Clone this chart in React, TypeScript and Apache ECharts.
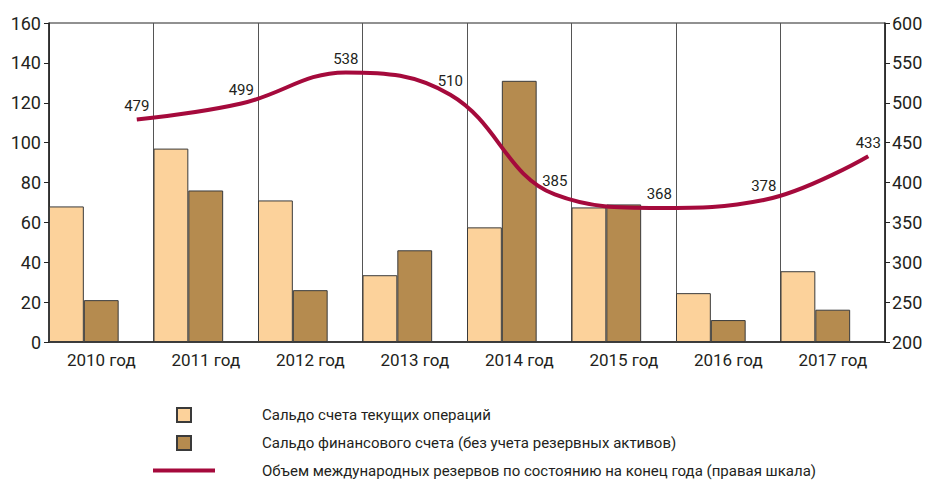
import React, { useEffect, useRef } from "react";
import * as echarts from "echarts";

const categories = ["2010 год", "2011 год", "2012 год", "2013 год", "2014 год", "2015 год", "2016 год", "2017 год"];
const currentAccount = [68, 97, 71, 33.5, 57.5, 67.5, 24.5, 35.5];
const financialAccount = [21, 76, 26, 46, 131, 69, 11, 16.2];
const reserves = [479, 499, 538, 510, 385, 368, 378, 433];
const seriesNames = [
  "Сальдо счета текущих операций",
  "Сальдо финансового счета (без учета резервных активов)",
  "Объем международных резервов по состоянию на конец года (правая шкала)",
];
const linePosInYear = 0.84;

const FONT = "Roboto, 'Liberation Sans', sans-serif";
const TEXT = "#231f20";

export default function App() {
  const ref = useRef<HTMLDivElement>(null);
  useEffect(() => {
    if (!ref.current) return;
    const chart = echarts.init(ref.current, undefined, { renderer: "svg" });
    const lineData = reserves.map((v, i) => [i + linePosInYear, v]);
    chart.setOption({
      animation: false,
      textStyle: { fontFamily: FONT, color: TEXT },
      grid: { left: 49, right: 43, top: 23, bottom: 144, show: true, borderColor: "#222", borderWidth: 1, backgroundColor: "transparent" },
      legend: {
        orient: "vertical",
        left: 153,
        top: 407,
        itemWidth: 62,
        itemHeight: 14,
        itemGap: 12,
        padding: 0,
        textStyle: { fontFamily: FONT, fontSize: 15, color: TEXT, padding: [0, 0, 0, 42] },
        data: [
          { name: seriesNames[0], icon: "path://M0,0L14,0L14,14L0,14Z" },
          { name: seriesNames[1], icon: "path://M0,0L14,0L14,14L0,14Z" },
          { name: seriesNames[2], icon: "path://M0,0L62,0L62,4L0,4Z" },
        ],
      },
      xAxis: [
        {
          type: "category",
          data: categories,
          boundaryGap: true,
          axisLine: { show: true, lineStyle: { color: "#222", width: 1.5 } },
          axisTick: { show: false },
          axisLabel: { interval: 0, fontFamily: FONT, fontSize: 17, color: TEXT, margin: 9 },
          splitLine: { show: true, interval: 0, lineStyle: { color: "#555", width: 1 } },
        },
        {
          type: "value",
          min: 0,
          max: 8,
          show: false,
          splitLine: { show: false },
        },
      ],
      yAxis: [
        {
          type: "value",
          min: 0,
          max: 160,
          interval: 20,
          axisLine: { show: true, lineStyle: { color: "#222", width: 1.5 } },
          axisTick: { show: true, length: 5, lineStyle: { color: "#222" } },
          axisLabel: { fontFamily: FONT, fontSize: 18, color: TEXT, margin: 8 },
          splitLine: { show: false },
        },
        {
          type: "value",
          min: 200,
          max: 600,
          interval: 50,
          position: "right",
          axisLine: { show: true, lineStyle: { color: "#222", width: 1.5 } },
          axisTick: { show: true, length: 5, lineStyle: { color: "#222" } },
          axisLabel: { fontFamily: FONT, fontSize: 18, color: TEXT, margin: 7 },
          splitLine: { show: false },
        },
      ],
      series: [
        {
          name: seriesNames[0],
          type: "bar",
          data: currentAccount,
          barGap: "0%",
          barCategoryGap: "0%",
          itemStyle: { color: "#fcd29b", borderColor: "#3a3a3a", borderWidth: 1 },
        },
        {
          name: seriesNames[1],
          type: "bar",
          data: financialAccount,
          barGap: "0%",
          barCategoryGap: "0%",
          itemStyle: { color: "#b58b4f", borderColor: "#3a3a3a", borderWidth: 1 },
        },
        {
          name: "_spacer",
          type: "bar",
          data: categories.map(() => "-"),
          barGap: "0%",
          barCategoryGap: "0%",
          itemStyle: { color: "transparent", borderWidth: 0 },
        },
        {
          name: seriesNames[2],
          type: "line",
          xAxisIndex: 1,
          yAxisIndex: 1,
          data: lineData,
          smooth: 0.4,
          symbol: "circle",
          symbolSize: 0.1,
          showSymbol: true,
          itemStyle: { color: "#a50a3c" },
          lineStyle: { color: "#a50a3c", width: 4 },
          label: { show: true, position: "top", distance: 6, fontFamily: FONT, fontSize: 15, color: TEXT },
          z: 5,
        },
      ],
    });
    return () => chart.dispose();
  }, []);
  return <div ref={ref} style={{ width: 928, height: 486, position: "absolute", left: 0, top: 0 }} />;
}
